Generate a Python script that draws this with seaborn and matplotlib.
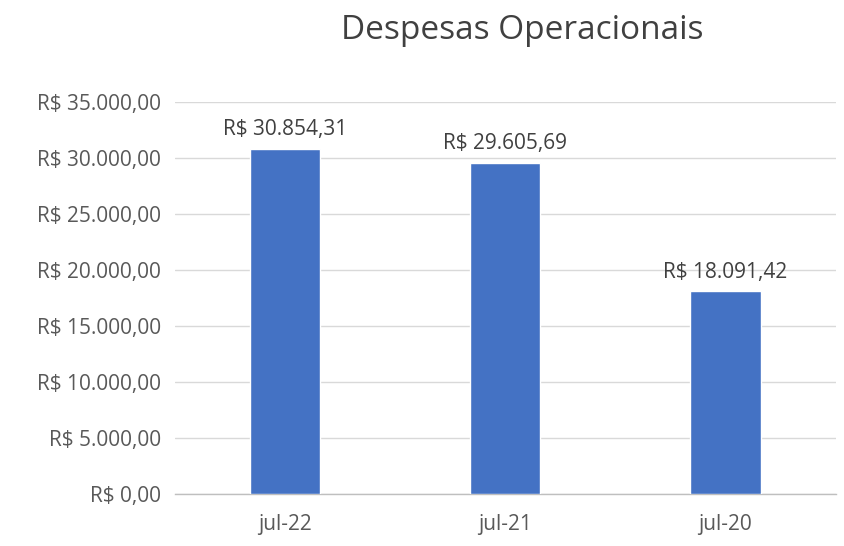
import matplotlib
matplotlib.use('Agg')
import matplotlib.pyplot as plt
import seaborn as sns
import pandas as pd
from matplotlib.ticker import FuncFormatter, FixedLocator

# dados do gráfico
periodos = ["jul-22", "jul-21", "jul-20"]
despesas = [30854.31, 29605.69, 18091.42]
titulo = "Despesas Operacionais"


def brl(v, pos=None):
    # formato brasileiro: R$ 30.854,31
    s = f"{v:,.2f}".replace(",", "X").replace(".", ",").replace("X", ".")
    return f"R$ {s}"


df = pd.DataFrame({"Periodo": periodos, "Valor": despesas})

sns.set_style("white")
plt.rcParams['font.family'] = ['Open Sans', 'DejaVu Sans']

fig = plt.figure(figsize=(8.44, 5.46), dpi=100)
ax = fig.add_axes([0.207, 0.095, 0.783, 0.718])

sns.barplot(data=df, x="Periodo", y="Valor", color="#4472C4", width=0.32,
            saturation=1, ax=ax, zorder=3)

ax.set_ylim(0, 35000)
ax.set_xlim(-0.5, 2.5)
ax.set_yticks(range(0, 35001, 5000))
ax.yaxis.set_major_formatter(FuncFormatter(lambda v, p: brl(v)))
ax.grid(axis="y", color="#D9D9D9", linewidth=1, zorder=0)
ax.set_xlabel("")
ax.set_ylabel("")

for s in ["top", "right", "left"]:
    ax.spines[s].set_visible(False)
ax.spines["bottom"].set_color("#BFBFBF")
ax.spines["bottom"].set_linewidth(1)

ax.tick_params(axis="y", length=0, labelsize=15, labelcolor="#595959", pad=10)
ax.tick_params(axis="x", which="major", length=0, labelsize=15, labelcolor="#595959", pad=14)
ax.xaxis.set_minor_locator(FixedLocator([-0.5, 0.5, 1.5, 2.5]))
ax.tick_params(axis="x", which="minor", length=5, color="#BFBFBF", width=1)

for i, v in enumerate(despesas):
    ax.annotate(brl(v), (i, v), xytext=(0, 6), textcoords="offset points",
                ha="center", va="bottom", fontsize=15, color="#404040")

fig.text(0.619, 0.945, titulo, ha="center", va="center", fontsize=24, color="#404040")

fig.savefig("out.png", dpi=100)
